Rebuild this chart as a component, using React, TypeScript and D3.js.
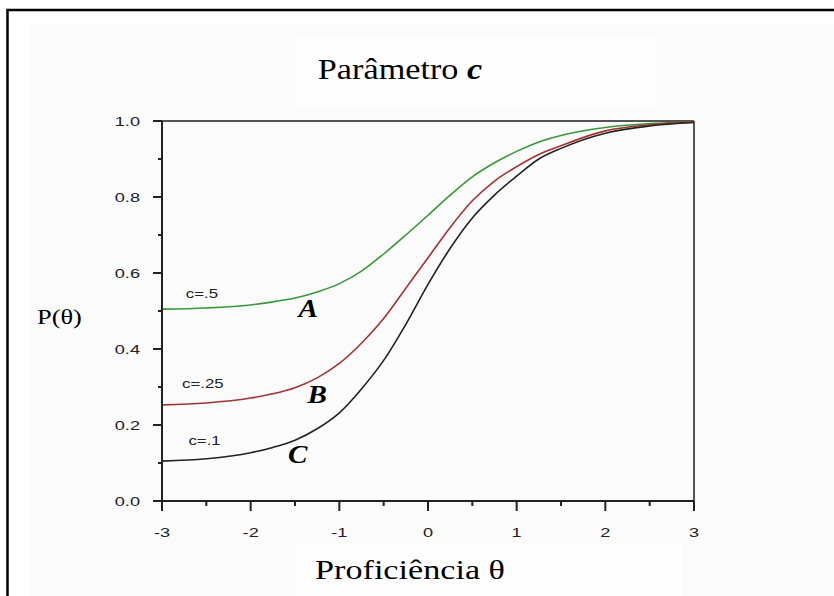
import React from "react";
import * as d3 from "d3";

// Item characteristic curves for three values of the guessing parameter c
const thetas = [-3, -2.5, -2, -1.75, -1.5, -1.25, -1, -0.75, -0.5, -0.25, 0, 0.25, 0.5, 0.75, 1, 1.25, 1.5, 2, 2.5, 3];
const curveA = [0.505, 0.508, 0.516, 0.524, 0.534, 0.55, 0.572, 0.605, 0.65, 0.70, 0.752, 0.805, 0.853, 0.89, 0.92, 0.945, 0.962, 0.983, 0.993, 0.998];
const curveB = [0.253, 0.258, 0.271, 0.282, 0.298, 0.324, 0.362, 0.415, 0.48, 0.56, 0.64, 0.72, 0.79, 0.842, 0.88, 0.912, 0.935, 0.974, 0.99, 0.997];
const curveC = [0.105, 0.111, 0.127, 0.141, 0.16, 0.19, 0.232, 0.295, 0.37, 0.465, 0.57, 0.665, 0.745, 0.805, 0.855, 0.9, 0.928, 0.968, 0.987, 0.996];

const seriesNames = ["A", "B", "C"];
const seriesCLabels = ["c=.5", "c=.25", "c=.1"];
const seriesColors = ["#359a35", "#a33232", "#222222"];

const xTicks = [-3, -2, -1, 0, 1, 2, 3];
const xMinorTicks = [-2.5, -1.5, -0.5, 0.5, 1.5, 2.5];
const yTicks = [0, 0.2, 0.4, 0.6, 0.8, 1.0];
const yMinorTicks = [0.1, 0.3, 0.5, 0.7, 0.9];

const W = 834;
const H = 596;
const plot = { left: 162, right: 694, top: 121, bottom: 501 };

type TxtProps = {
  x: number;
  y: number;
  anchor?: "start" | "middle" | "end";
  sx?: number;
  children: React.ReactNode;
  [k: string]: any;
};

// text drawn with an optional horizontal widening
function Txt({ x, y, anchor = "start", sx = 1.4, children, ...rest }: TxtProps) {
  return (
    <text transform={`translate(${x},${y}) scale(${sx},1)`} textAnchor={anchor} {...rest}>
      {children}
    </text>
  );
}

export default function App() {
  const x = d3.scaleLinear().domain([-3, 3]).range([plot.left, plot.right]);
  const y = d3.scaleLinear().domain([0, 1]).range([plot.bottom, plot.top]);
  const line = d3
    .line<[number, number]>()
    .x((d) => x(d[0]))
    .y((d) => y(d[1]))
    .curve(d3.curveMonotoneX);

  const curves = [curveA, curveB, curveC].map((vals) =>
    thetas.map((t, i) => [t, vals[i]] as [number, number])
  );

  const sans = "'Liberation Sans', Arial, sans-serif";
  const serif = "'Liberation Serif', 'Times New Roman', serif";

  // annotation anchors in data coordinates
  const cLabelPos: [number, number][] = [[-2.55, 0.534], [-2.54, 0.297], [-2.52, 0.148]];
  const letterPos: [number, number][] = [[-1.35, 0.484], [-1.25, 0.258], [-1.47, 0.1]];

  return (
    <svg width={W} height={H} style={{ position: "absolute", left: 0, top: 0, background: "#fff" }}>
      {/* faint panel backgrounds */}
      <rect x={29} y={24} width={W - 29} height={H - 24} fill="#fbfbfb" />
      <rect x={297} y={36} width={360} height={72} fill="#fefefe" />
      <rect x={296} y={543} width={386} height={53} fill="#fefefe" />

      {/* outer frame */}
      <rect x={7.5} y={10} width={W + 20} height={H + 20} fill="none" stroke="#000" strokeWidth={2.5} />

      {/* title */}
      <Txt x={400} y={79} anchor="middle" sx={1.18} fontFamily={serif} fontSize={29} fill="#000">
        Parâmetro <tspan fontWeight="bold" fontStyle="italic">c</tspan>
      </Txt>

      {/* plot frame (top and right) */}
      <line x1={plot.left} x2={plot.right} y1={plot.top} y2={plot.top} stroke="#555" strokeWidth={2} />
      <line x1={plot.right} x2={plot.right} y1={plot.top} y2={plot.bottom + 10} stroke="#555" strokeWidth={2} />

      {/* curves */}
      {curves.map((pts, i) => (
        <path key={seriesNames[i]} d={line(pts) || ""} fill="none" stroke={seriesColors[i]} strokeWidth={1.6} />
      ))}

      {/* y axis */}
      <line x1={plot.left} x2={plot.left} y1={plot.top} y2={plot.bottom + 10} stroke="#222" strokeWidth={2} />
      {yTicks.map((t) => (
        <g key={"y" + t}>
          <line x1={plot.left - 9} x2={plot.left} y1={y(t)} y2={y(t)} stroke="#222" strokeWidth={2} />
          <Txt x={140} y={y(t) + 4.7} anchor="end" fontFamily={sans} fontSize={13} fill="#222">
            {d3.format(".1f")(t)}
          </Txt>
        </g>
      ))}
      {yMinorTicks.map((t) => (
        <line key={"ym" + t} x1={plot.left - 4} x2={plot.left} y1={y(t)} y2={y(t)} stroke="#222" strokeWidth={2} />
      ))}

      {/* x axis */}
      <line x1={plot.left - 9} x2={plot.right} y1={plot.bottom} y2={plot.bottom} stroke="#222" strokeWidth={2} />
      {xTicks.map((t) => (
        <g key={"x" + t}>
          <line x1={x(t)} x2={x(t)} y1={plot.bottom} y2={plot.bottom + 10} stroke="#222" strokeWidth={2} />
          <Txt x={x(t)} y={537} anchor="middle" fontFamily={sans} fontSize={13} fill="#222">
            {t}
          </Txt>
        </g>
      ))}
      {xMinorTicks.map((t) => (
        <line key={"xm" + t} x1={x(t)} x2={x(t)} y1={plot.bottom} y2={plot.bottom + 5} stroke="#222" strokeWidth={2} />
      ))}

      {/* series annotations */}
      {seriesCLabels.map((s, i) => (
        <Txt key={s} x={x(cLabelPos[i][0])} y={y(cLabelPos[i][1])} anchor="middle" fontFamily={sans} fontSize={12} fill="#222">
          {s}
        </Txt>
      ))}
      {seriesNames.map((s, i) => (
        <Txt key={"L" + s} x={x(letterPos[i][0])} y={y(letterPos[i][1])} anchor="middle" sx={1.12} fontFamily={serif} fontWeight="bold" fontStyle="italic" fontSize={26} fill="#000">
          {s}
        </Txt>
      ))}

      {/* axis titles */}
      <Txt x={37} y={324} sx={1.2} fontFamily={serif} fontSize={22} fill="#000">P(θ)</Txt>
      <Txt x={410} y={579} anchor="middle" sx={1.22} fontFamily={serif} fontSize={28} fill="#000">Proficiência θ</Txt>
    </svg>
  );
}
